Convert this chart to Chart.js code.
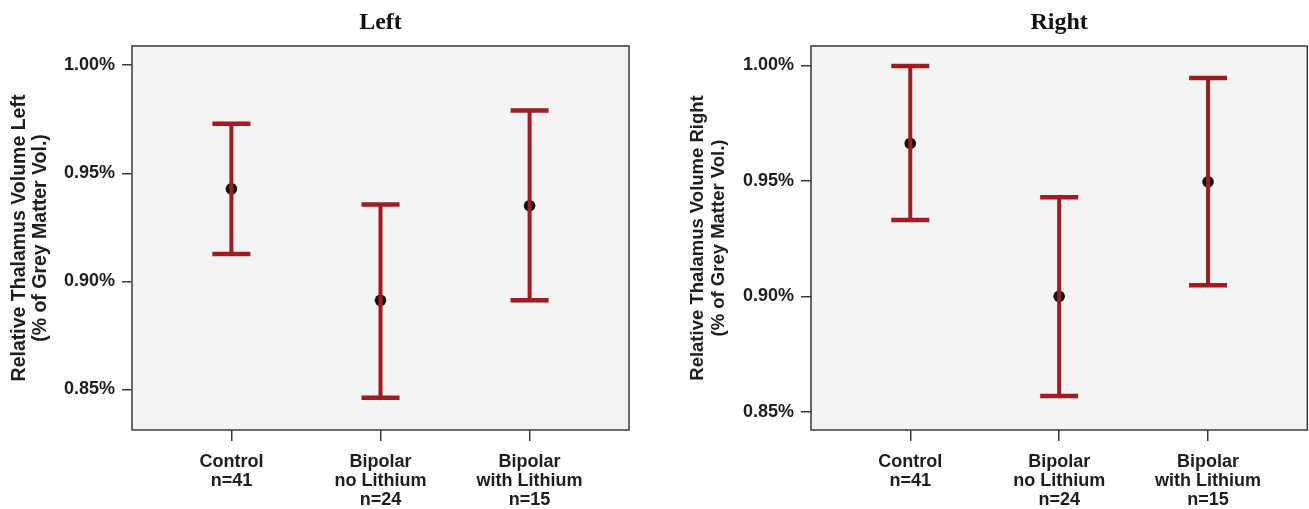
<!DOCTYPE html>
<html>
<head>
<meta charset="utf-8">
<script src="https://cdn.jsdelivr.net/npm/chart.js@4.4.0/dist/chart.umd.min.js"></script>
<style>
  body { margin: 0; background: #fff; }
  #wrap { position: relative; width: 1309px; height: 509px; }
  canvas { position: absolute; top: 0; }
</style>
</head>
<body>
<div id="wrap">
  <canvas id="leftChart" width="660" height="509" style="left:0"></canvas>
  <canvas id="rightChart" width="649" height="509" style="left:660px"></canvas>
</div>
<script>
// --- groups on the x axis ---
const groups = [['Control', 'n=41'], ['Bipolar', 'no Lithium', 'n=24'], ['Bipolar', 'with Lithium', 'n=15']];
const groupPos = [1, 2, 3];
const yTicks = [0.85, 0.90, 0.95, 1.00];

// --- Left thalamus: mean and error bar ends (%) ---
const leftMean = [0.9428, 0.8912, 0.9350];
const leftUpper = [0.9729, 0.9355, 0.9790];
const leftLower = [0.9127, 0.8461, 0.8912];

// --- Right thalamus ---
const rightMean = [0.9662, 0.9000, 0.9496];
const rightUpper = [0.9997, 0.9429, 0.9945];
const rightLower = [0.9330, 0.8568, 0.9048];

const red = '#a11c20';
const axisColor = '#3a3a3a';
const textColor = '#1e1e1e';
const sans = "'Liberation Sans', Arial, sans-serif";

// grey plot area with a frame on all four sides
const boxPlugin = {
  id: 'box',
  beforeDraw(chart) {
    const a = chart.chartArea, ctx = chart.ctx;
    ctx.save();
    ctx.fillStyle = '#f3f3f3';
    ctx.fillRect(a.left, a.top, a.right - a.left, a.bottom - a.top);
    ctx.restore();
  },
  beforeDatasetsDraw(chart) {
    const a = chart.chartArea, ctx = chart.ctx;
    ctx.save();
    ctx.strokeStyle = axisColor;
    ctx.lineWidth = 1.5;
    ctx.strokeRect(a.left, a.top, a.right - a.left, a.bottom - a.top);
    ctx.restore();
  }
};

function makeChart(id, title, yTitle, mean, upper, lower, yMin, yMax, opts) {
  // one vertical segment per group, caps drawn as 'line' points
  const bars = groupPos.map((x, i) => ({
    showLine: true,
    data: [{ x: x, y: lower[i] }, { x: x, y: upper[i] }],
    borderColor: red,
    borderWidth: 4,
    pointStyle: 'line',
    pointRadius: 19,
    pointBorderWidth: 4.5,
    pointBorderColor: red
  }));
  const means = {
    data: groupPos.map((x, i) => ({ x: x, y: mean[i] })),
    pointRadius: 5.8,
    pointBackgroundColor: '#111',
    pointBorderWidth: 0
  };

  return new Chart(document.getElementById(id), {
    type: 'scatter',
    data: { datasets: bars.concat([means]) },
    options: {
      responsive: false,
      animation: false,
      events: [],
      layout: { autoPadding: false, padding: { left: 0, right: opts.rightPad, top: 0, bottom: 0 } },
      plugins: {
        legend: { display: false },
        tooltip: { enabled: false },
        title: {
          display: true,
          text: title,
          fullSize: false,
          color: '#111',
          font: { family: "'Liberation Serif', 'Times New Roman', serif", size: 24, weight: 'bold' },
          padding: { top: 8.5, bottom: 8.7 }
        }
      },
      scales: {
        x: {
          type: 'linear',
          min: 1 / 3,
          max: 11 / 3,
          afterBuildTicks: s => { s.ticks = groupPos.map(v => ({ value: v })); },
          afterFit: s => { s.height = 79; s.paddingLeft = 0; s.paddingRight = 0; },
          ticks: {
            callback: (v, i) => groups[i],
            color: textColor,
            font: { family: sans, size: 18, weight: 'bold', lineHeight: 1.04 },
            padding: 12,
            maxRotation: 0,
            autoSkip: false
          },
          grid: { drawOnChartArea: false, drawTicks: true, tickLength: 11, color: axisColor, lineWidth: 1.5 },
          border: { display: false }
        },
        y: {
          min: yMin,
          max: yMax,
          afterBuildTicks: s => { s.ticks = yTicks.map(v => ({ value: v })); },
          afterFit: s => { s.width = opts.yWidth; },
          ticks: {
            callback: v => v.toFixed(2) + '%',
            color: textColor,
            font: { family: sans, size: 18, weight: 'bold' },
            padding: 7
          },
          grid: { drawOnChartArea: false, drawTicks: true, tickLength: 10, color: axisColor, lineWidth: 1.5 },
          border: { display: false },
          title: {
            display: true,
            text: [yTitle, '(% of Grey Matter Vol.)'],
            color: textColor,
            font: { family: sans, size: opts.titleSize, weight: 'bold', lineHeight: opts.titleLH },
            padding: { top: opts.titlePad, bottom: 0 }
          }
        }
      }
    },
    plugins: [boxPlugin]
  });
}

makeChart('leftChart', 'Left', 'Relative Thalamus Volume Left', leftMean, leftUpper, leftLower, 0.8312, 1.0089,
  { rightPad: 31, yWidth: 132, titleSize: 19.5, titleLH: 1.08, titlePad: 9 });
makeChart('rightChart', 'Right', 'Relative Thalamus Volume Right', rightMean, rightUpper, rightLower, 0.8421, 1.0084,
  { rightPad: 1.7, yWidth: 151, titleSize: 18.5, titleLH: 1.1, titlePad: 28 });
</script>
</body>
</html>
